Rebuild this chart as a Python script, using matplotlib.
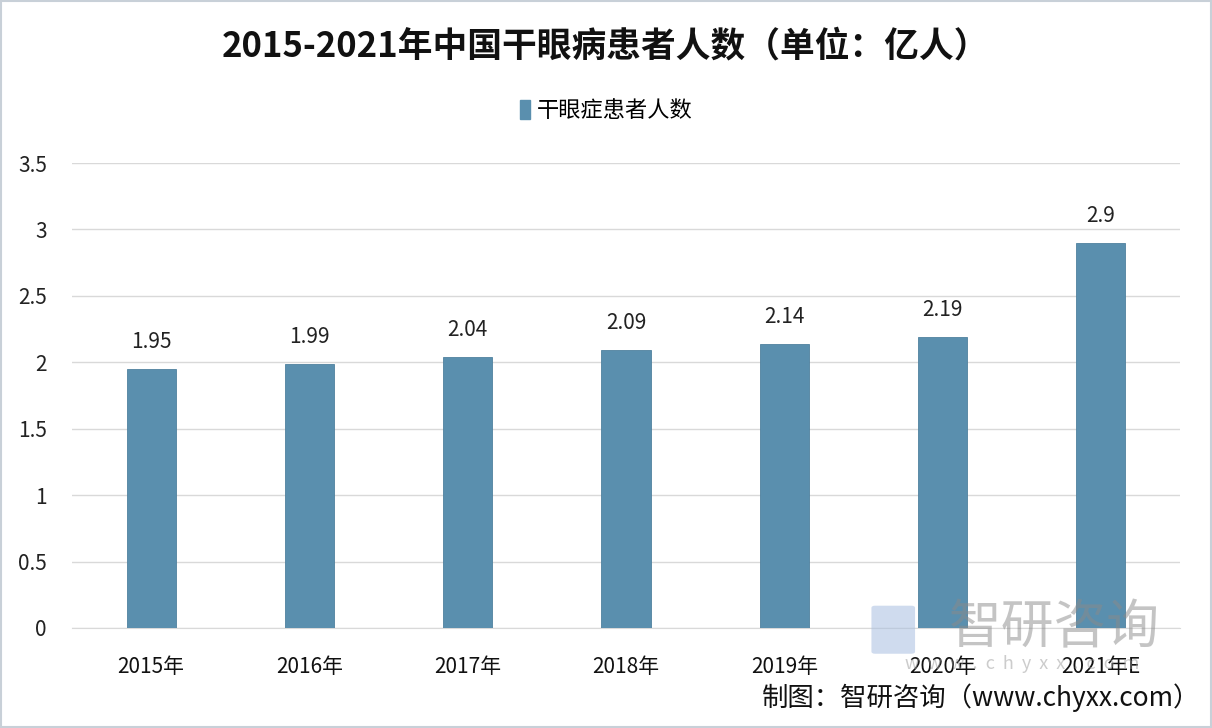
import matplotlib.pyplot as plt
import matplotlib.patches as mpatches

plt.rcParams['font.family'] = ['Noto Sans CJK SC', 'DejaVu Sans']

years = ['2015年', '2016年', '2017年', '2018年', '2019年', '2020年', '2021年E']
patients = [1.95, 1.99, 2.04, 2.09, 2.14, 2.19, 2.9]
label_text = ['1.95', '1.99', '2.04', '2.09', '2.14', '2.19', '2.9']
yticks = [0, 0.5, 1, 1.5, 2, 2.5, 3, 3.5]
ytick_labels = ['0', '0.5', '1', '1.5', '2', '2.5', '3', '3.5']

bar_color = '#5a8fae'

fig = plt.figure(figsize=(12.12, 7.28), dpi=100)
fig.patch.set_facecolor('white')
ax = fig.add_axes([0.0594, 0.1374, 0.9142, 0.6386])

x = range(len(years))
bars = ax.bar(x, patients, width=0.31, color=bar_color, edgecolor='#4f819f',
              linewidth=0.6, zorder=3, label='干眼症患者人数')
for b, t in zip(bars, label_text):
    ax.text(b.get_x() + b.get_width() / 2, b.get_height() + 0.12, t,
            ha='center', va='bottom', fontsize=15, color='#222222')

ax.set_xlim(-0.5, len(years) - 0.5)
ax.set_ylim(0, 3.5)
ax.set_yticks(yticks)
ax.set_yticklabels(ytick_labels, fontsize=15, color='#222222')
ax.set_xticks(list(x))
ax.set_xticklabels(years, fontsize=15, color='#111111')
ax.tick_params(axis='both', length=0)
ax.tick_params(axis='y', pad=18)
ax.tick_params(axis='x', pad=20)
ax.grid(axis='y', color='#d9d9d9', linewidth=1, zorder=0)
for s in ['top', 'right', 'left']:
    ax.spines[s].set_visible(False)
ax.spines['bottom'].set_color('#d9d9d9')

fig.text(0.5, 0.937, '2015-2021年中国干眼病患者人数（单位：亿人）', ha='center', va='center',
         fontsize=25, fontweight='bold', color='#111111')

leg = fig.legend(handles=[mpatches.Patch(color=bar_color, label='干眼症患者人数')],
                 loc='center', bbox_to_anchor=(0.5, 0.848), frameon=False,
                 fontsize=16, handlelength=0.45, handleheight=1.0, handletextpad=0.3)

# watermark
fig.text(0.87, 0.137, '智研咨询', ha='center', va='center', fontsize=38,
         color='#8a8a8a', alpha=0.5, zorder=10)
fig.text(0.843, 0.088, 'w  w  w  .  c  h  y  x  x  .  c  o  m', ha='center', va='center', fontsize=13,
         color='#9a9a9a', alpha=0.5, zorder=10)
fig.patches.append(mpatches.FancyBboxPatch((0.722, 0.105), 0.03, 0.06, boxstyle='round,pad=0.003',
                                           transform=fig.transFigure, facecolor='#a9bfe0',
                                           edgecolor='none', alpha=0.55, zorder=10))

fig.text(0.99, 0.042, '制图：智研咨询（www.chyxx.com）', ha='right', va='center',
         fontsize=19, color='#111111')

fig.patches.append(mpatches.Rectangle((0.001, 0.001), 0.998, 0.997, transform=fig.transFigure,
                                      fill=False, edgecolor='#c8d0d8', linewidth=1.5))

fig.savefig('out.png', dpi=100)
